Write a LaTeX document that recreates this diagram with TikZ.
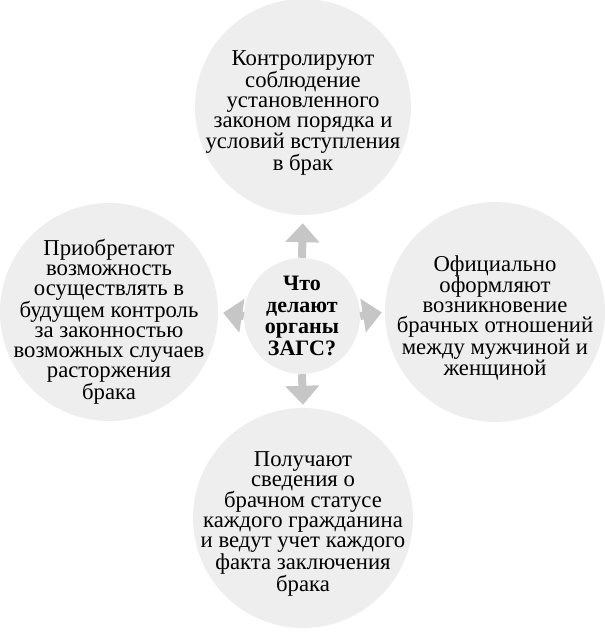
\documentclass[tikz,border=0pt]{standalone}
\usepackage{fontspec}
\setmainfont{Liberation Serif}
\usetikzlibrary{arrows.meta}
\definecolor{bubble}{HTML}{EEEEEE}
\definecolor{pointer}{HTML}{C6C6C6}

\begin{document}
\begin{tikzpicture}[x=1pt, y=1pt,
	bubble/.style={circle, fill=bubble, inner sep=0pt},
	blurb/.style={align=center, inner sep=0pt, yshift=-6pt, font=\fontsize{22.7}{20}\selectfont},
	hub/.style={circle, fill=bubble, align=center, inner sep=0pt, minimum size=116pt, font=\bfseries\fontsize{22}{21.7}\selectfont},
	flow/.style={pointer, line width=8pt, -{Triangle[width=33pt, length=19pt]}}]
		\useasboundingbox (0,0) rectangle (605,632);
		%top
		\node[bubble, minimum size=216pt] (top) at (303,525) {};
		\node[blurb] (top text) at (top) {Контролируют\\соблюдение\\установленного\\законом порядка и\\условий вступления\\в брак};
		%left
		\node[bubble, minimum size=218pt] (left) at (109,320) {};
		\node[blurb, yshift=-4pt] (left text) at (left) {Приобретают\\возможность\\осуществлять в\\будущем контроль\\за законностью\\возможных случаев\\расторжения\\брака};
		%right
		\node[bubble, minimum size=220pt] (right) at (495,320) {};
		\node[blurb] (right text) at (right) {Официально\\оформляют\\возникновение\\брачных отношений\\между мужчиной и\\женщиной};
		%bottom
		\node[bubble, minimum size=220pt] (bottom) at (303,114) {};
		\node[blurb] (bottom text) at (bottom) {Получают\\сведения о\\брачном статусе\\каждого гражданина\\и ведут учет каждого\\факта заключения\\брака};
		%centre
		\node[hub] (ctr) at (302,316) {Что\\делают\\органы\\ЗАГС?};
		%arrows
		\draw[flow, shorten >=8pt] (ctr.north) -- (top.south);
		\draw[flow, shorten >=5pt] (ctr.west) -- (left.east);
		\draw[flow, shorten >=3pt] (ctr.east) -- (right.west);
		\draw[flow, shorten >=3pt] (ctr.south) -- (bottom.north);
\end{tikzpicture}
\end{document}
